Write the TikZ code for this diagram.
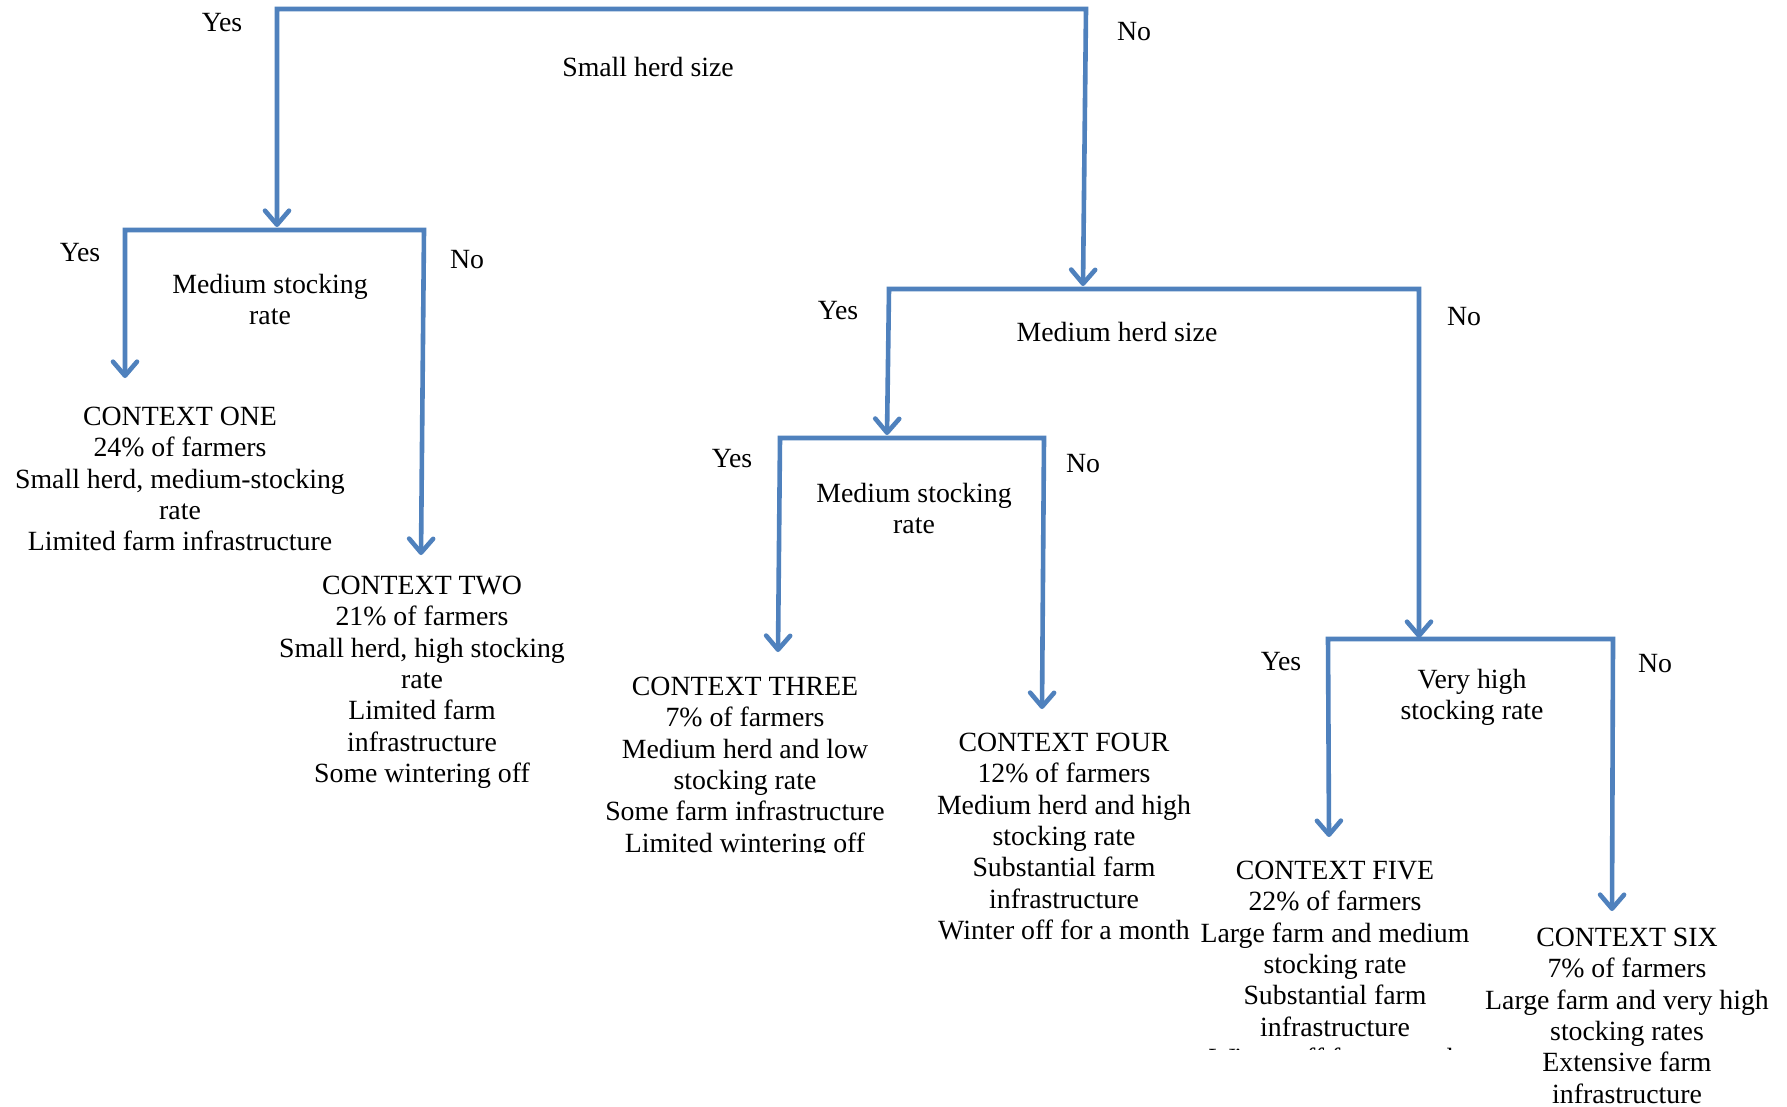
\documentclass[tikz,border=0pt]{standalone}
\usepackage{fontspec}
\setmainfont{Liberation Serif}
\usetikzlibrary{arrows.meta}
\definecolor{flowblue}{HTML}{4F81BD}
\begin{document}
\begin{tikzpicture}[x=0.5pt,y=-0.5pt,
  flow/.style={draw=flowblue, line width=2.3pt, line join=miter,
    {Straight Barb[length=7pt,width=12pt,round]}-{Straight Barb[length=7pt,width=12pt,round]}},
  lbl/.style={inner sep=0pt, yshift=-0.7pt, font=\fontsize{13.9}{15.7}\selectfont},
  ctx/.style={lbl, align=center, anchor=north}]
\useasboundingbox (0,0) rectangle (1787,1107);
\fill[white] (0,0) rectangle (1787,1107);

% ---- level 1: small herd size
\node[lbl] (yes1) at (222,21) {Yes};
\node[lbl] (no1) at (1134,30) {No};
\node[lbl] (q1) at (648,66) {Small herd size};
\coordinate (b1l) at (277,9);
\coordinate (b1r) at (1086,9);
\coordinate (t1l) at (277,227);
\coordinate (t1r) at (1083,286);
\draw[flow] (t1l) -- (b1l) -- (b1r) -- (t1r);

% ---- level 2 left: medium stocking rate
\node[lbl] (yes2) at (80,251) {Yes};
\node[lbl] (no2) at (467,258) {No};
\node[lbl, align=center] (q2) at (270,298) {Medium stocking\\rate};
\coordinate (b2l) at (125,230);
\coordinate (b2r) at (424,230);
\coordinate (t2l) at (125,378);
\coordinate (t2r) at (421,555);
\draw[flow] (t2l) -- (b2l) -- (b2r) -- (t2r);

\node[ctx] (c1) at (180,405) {CONTEXT ONE\\24\% of farmers\\Small herd, medium-stocking\\rate\\Limited farm infrastructure};
\node[ctx] (c2) at (422,574) {CONTEXT TWO\\21\% of farmers\\Small herd, high stocking\\rate\\Limited farm\\infrastructure\\Some wintering off};

% ---- level 2 right: medium herd size
\node[lbl] (yes3) at (838,309) {Yes};
\node[lbl] (no3) at (1464,315) {No};
\node[lbl] (q3) at (1117,331) {Medium herd size};
\coordinate (b3l) at (889,289);
\coordinate (b3r) at (1419,289);
\coordinate (t3l) at (887,435);
\coordinate (t3r) at (1419,638);
\draw[flow] (t3l) -- (b3l) -- (b3r) -- (t3r);

% ---- level 3 left: medium stocking rate
\node[lbl] (yes4) at (732,457) {Yes};
\node[lbl] (no4) at (1083,462) {No};
\node[lbl, align=center] (q4) at (914,507) {Medium stocking\\rate};
\coordinate (b4l) at (780,438);
\coordinate (b4r) at (1044,438);
\coordinate (t4l) at (778,652);
\coordinate (t4r) at (1042,709);
\draw[flow] (t4l) -- (b4l) -- (b4r) -- (t4r);

\begin{scope}
\clip (560,660) rectangle (930,852);
\node[ctx] (c3) at (745,675) {CONTEXT THREE\\7\% of farmers\\Medium herd and low\\stocking rate\\Some farm infrastructure\\Limited wintering off};
\end{scope}
\node[ctx] (c4) at (1064,731) {CONTEXT FOUR\\12\% of farmers\\Medium herd and high\\stocking rate\\Substantial farm\\infrastructure\\Winter off for a month};

% ---- level 3 right: very high stocking rate
\node[lbl] (yes5) at (1281,660) {Yes};
\node[lbl] (no5) at (1655,662) {No};
\node[lbl, align=center] (q5) at (1472,696) {Very high\\stocking rate};
\coordinate (b5l) at (1328,639);
\coordinate (b5r) at (1613,639);
\coordinate (t5l) at (1329,837);
\coordinate (t5r) at (1612,911);
\draw[flow] (t5l) -- (b5l) -- (b5r) -- (t5r);

\begin{scope}
\clip (1190,840) rectangle (1485,1049);
\node[ctx] (c5) at (1335,859) {CONTEXT FIVE\\22\% of farmers\\Large farm and medium\\stocking rate\\Substantial farm\\infrastructure\\Winter off for a month};
\end{scope}
\node[ctx] (c6) at (1627,926) {CONTEXT SIX\\7\% of farmers\\Large farm and very high\\stocking rates\\Extensive farm\\infrastructure};
\end{tikzpicture}
\end{document}
